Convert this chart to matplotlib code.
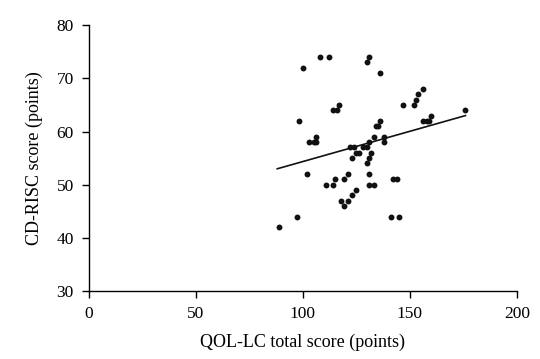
import matplotlib.pyplot as plt

# QOL-LC total score vs CD-RISC score
qol = [100, 108, 112, 131, 130, 136,
       156, 154, 153, 152, 147, 176,
       160, 156, 158, 159,
       117, 114, 116, 98,
       136, 134, 135, 133, 138, 138,
       106, 103, 105, 106, 131,
       122, 124, 128, 130,
       125, 126, 132, 123, 131, 130,
       102, 121, 131,
       115, 119, 111, 114, 131, 133,
       142, 144, 125, 123, 118, 121, 119,
       97, 141, 145, 89]
cdrisc = [72, 74, 74, 74, 73, 71,
          68, 67, 66, 65, 65, 64,
          63, 62, 62, 62,
          65, 64, 64, 62,
          62, 61, 61, 59, 59, 58,
          59, 58, 58, 58, 58,
          57, 57, 57, 57,
          56, 56, 56, 55, 55, 54,
          52, 52, 52,
          51, 51, 50, 50, 50, 50,
          51, 51, 49, 48, 47, 47, 46,
          44, 44, 44, 42]

# regression line end points
fit_x = [88, 176]
fit_y = [53, 63]

plt.rcParams['font.family'] = ['Liberation Serif', 'DejaVu Serif']

fig = plt.figure(figsize=(5.4, 3.59), dpi=100)
ax = fig.add_axes([0.165, 0.189, 0.792, 0.741])

ax.scatter(qol, cdrisc, s=18, color='#111111', zorder=3, linewidths=0)
ax.plot(fit_x, fit_y, color='#111111', linewidth=1.2)

ax.set_xlim(0, 200)
ax.set_ylim(30, 80)
ax.set_xticks([0, 50, 100, 150, 200])
ax.set_yticks([30, 40, 50, 60, 70, 80])

for s in ['top', 'right']:
    ax.spines[s].set_visible(False)
for s in ['left', 'bottom']:
    ax.spines[s].set_linewidth(1.0)
ax.tick_params(direction='out', length=5, width=1.0, labelsize=12.5, pad=6)

ax.set_xlabel('QOL-LC total score (points)', fontsize=13, labelpad=8)
ax.set_ylabel('CD-RISC score (points)', fontsize=13, labelpad=10)

fig.savefig('out.png', dpi=100)
